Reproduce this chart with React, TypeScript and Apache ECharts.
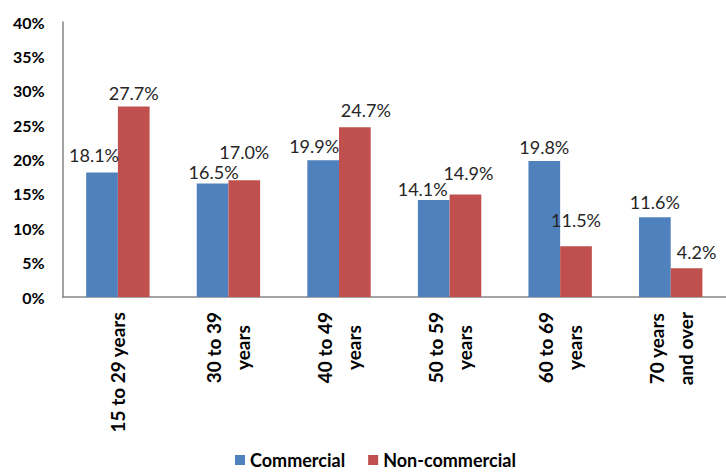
import React, { useEffect, useRef } from "react";
import * as echarts from "echarts";

const categories = ["15 to 29 years", "30 to 39\nyears", "40 to 49\nyears", "50 to 59\nyears", "60 to 69\nyears", "70 years\nand over"];
// bar heights as drawn in the picture
const commercial = [18.1, 16.5, 19.9, 14.1, 19.8, 11.6];
const nonCommercial = [27.7, 17.0, 24.7, 14.9, 7.4, 4.2];
// data-label texts as printed in the picture
const commercialLabels = ["18.1%", "16.5%", "19.9%", "14.1%", "19.8%", "11.6%"];
const nonCommercialLabels = ["27.7%", "17.0%", "24.7%", "14.9%", "11.5%", "4.2%"];
const seriesNames = ["Commercial", "Non-commercial"];
const yTicks = [0, 5, 10, 15, 20, 25, 30, 35, 40];

// label nudges (style only), [dx, dy] per bar
const commercialLabelShift = [[-8, -4], [1, 2], [-9, 0], [-11, 3], [0, 0], [0, -1]];
const nonCommercialLabelShift = [[0, 0], [0, -14], [11, -3], [3, -8], [0, -12], [10, -2]];

const FONT = "Lato, 'Open Sans', sans-serif";

export default function App() {
  const ref = useRef<HTMLDivElement>(null);
  useEffect(() => {
    const chart = echarts.init(ref.current!, null, { renderer: "svg" });
    const baseLabel = {
      show: true,
      position: "top" as const,
      distance: 5,
      fontFamily: FONT,
      fontSize: 18,
      color: "#262626",
    };
    const mk = (vals: number[], texts: string[], shifts: number[][]) =>
      vals.map((v, i) => ({ value: v, label: { offset: shifts[i], formatter: texts[i] } }));
    chart.setOption({
      animation: false,
      textStyle: { fontFamily: FONT },
      grid: { left: 62.6, right: -5, top: 22, bottom: 175, containLabel: false },
      legend: {
        top: 451,
        left: 235,
        itemWidth: 10,
        itemHeight: 10,
        itemGap: 23,
        icon: "rect",
        padding: 0,
        textStyle: { fontFamily: FONT, fontSize: 18, lineHeight: 18, fontWeight: "bold", color: "#000" },
        data: seriesNames,
      },
      xAxis: {
        type: "category",
        data: categories,
        axisLine: { lineStyle: { color: "#868686", width: 1.5 } },
        axisTick: { show: false },
        axisLabel: {
          rotate: 90,
          interval: 0,
          margin: 15,
          color: "#000",
          formatter: (v: string) => v.split("\n").map((s) => "{c|" + s + "}").join("\n"),
          rich: {
            c: {
              align: "center",
              fontFamily: FONT,
              fontSize: 19,
              fontWeight: "bold",
              color: "#000",
              lineHeight: 29,
            },
          },
        },
      },
      yAxis: {
        type: "value",
        min: yTicks[0],
        max: yTicks[yTicks.length - 1],
        interval: yTicks[1] - yTicks[0],
        splitLine: { show: false },
        axisLine: { show: true, lineStyle: { color: "#868686", width: 1.5 } },
        axisTick: { show: false },
        axisLabel: {
          formatter: "{value}%",
          fontFamily: FONT,
          fontSize: 16,
          fontWeight: "bold",
          color: "#000",
          margin: 18,
        },
      },
      series: [
        {
          name: seriesNames[0],
          type: "bar",
          data: mk(commercial, commercialLabels, commercialLabelShift),
          barWidth: 31.7,
          barGap: "0%",
          itemStyle: { color: "#4F81BD" },
          label: baseLabel,
        },
        {
          name: seriesNames[1],
          type: "bar",
          data: mk(nonCommercial, nonCommercialLabels, nonCommercialLabelShift),
          barWidth: 31.7,
          barGap: "0%",
          itemStyle: { color: "#C0504D" },
          label: baseLabel,
        },
      ],
    });
    return () => chart.dispose();
  }, []);
  return <div ref={ref} style={{ width: 726, height: 472, position: "absolute", left: 0, top: 0, background: "#fff" }} />;
}
